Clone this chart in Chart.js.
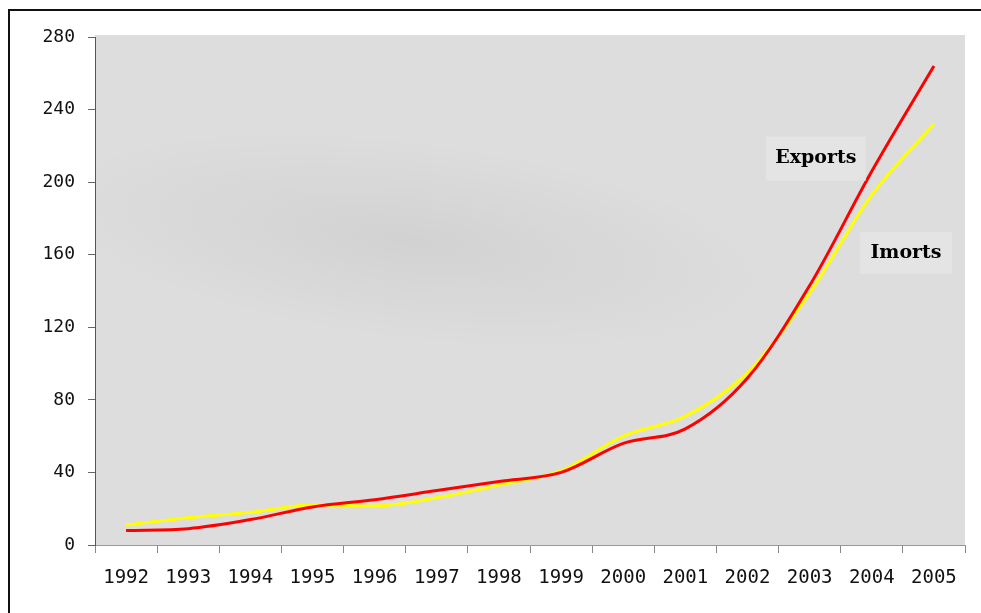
<!DOCTYPE html>
<html>
<head>
  <meta charset="UTF-8">
  <title>Exports and Imports 1992-2005</title>
  <script src="https://cdn.jsdelivr.net/npm/chart.js"></script>
  <style>
    html, body {
      margin: 0;
      padding: 0;
      background: #fff;
      overflow: hidden;
    }
    .frame {
      position: absolute;
      left: 8px;
      top: 9px;
      width: 990px;
      height: 620px;
      border: 2px solid #111;
      box-sizing: border-box;
    }
    .chart-box {
      position: absolute;
      left: 0;
      top: 0;
      width: 981px;
      height: 613px;
    }
  </style>
</head>
<body>
  <div class="frame"></div>
  <div class="chart-box">
    <canvas id="tradeChart" width="981" height="613"></canvas>
  </div>

  <script>
    const years = ['1992', '1993', '1994', '1995', '1996', '1997', '1998',
                   '1999', '2000', '2001', '2002', '2003', '2004', '2005'];
    const exportsValues = [8, 9, 14, 21, 25, 30, 35, 40, 56, 64, 92, 143, 206, 264];
    const importsValues = [11, 15, 18, 22, 21.5, 26, 33, 41, 60, 71, 95, 139, 193, 232];
    const yTicks = [0, 40, 80, 120, 160, 200, 240, 280];

    // text notes placed by category index / value
    const notes = [
      { text: 'Exports', x: 11.1, y: 213, boxW: 100, boxH: 44 },
      { text: 'Imorts', x: 12.55, y: 161, boxW: 92, boxH: 42 }
    ];

    const plotBackground = {
      id: 'plotBackground',
      beforeDraw(chart) {
        const { ctx, chartArea: a } = chart;
        const w = a.right - a.left;
        const h = a.bottom - a.top;
        ctx.save();
        ctx.fillStyle = '#dddddd';
        ctx.fillRect(a.left, a.top - 2, w, h + 2);
        // soft darker swath like the scanned backdrop
        ctx.beginPath();
        ctx.rect(a.left, a.top - 2, w, h + 2);
        ctx.clip();
        const g = ctx.createRadialGradient(0, 0, 0, 0, 0, 1);
        g.addColorStop(0, 'rgba(0,0,0,0.05)');
        g.addColorStop(1, 'rgba(0,0,0,0)');
        ctx.translate(a.left + w * 0.36, a.top + h * 0.4);
        ctx.rotate(0.12);
        ctx.scale(w * 0.42, h * 0.2);
        ctx.fillStyle = g;
        ctx.beginPath();
        ctx.arc(0, 0, 1, 0, Math.PI * 2);
        ctx.fill();
        ctx.restore();
      }
    };

    const noteLabels = {
      id: 'noteLabels',
      afterDatasetsDraw(chart) {
        const { ctx, scales } = chart;
        ctx.save();
        ctx.font = 'bold 19px "DejaVu Serif"';
        ctx.textAlign = 'center';
        ctx.textBaseline = 'middle';
        notes.forEach(n => {
          const px = scales.x.getPixelForValue(n.x);
          const py = scales.y.getPixelForValue(n.y);
          ctx.fillStyle = '#e4e4e4';
          ctx.fillRect(px - n.boxW / 2, py - n.boxH / 2, n.boxW, n.boxH);
          ctx.fillStyle = '#000';
          ctx.fillText(n.text, px, py);
        });
        ctx.restore();
      }
    };

    new Chart(document.getElementById('tradeChart').getContext('2d'), {
      type: 'line',
      data: {
        labels: years,
        datasets: [
          {
            label: 'Exports',
            data: exportsValues,
            borderColor: '#ff0000',
            borderWidth: 3,
            pointRadius: 0,
            cubicInterpolationMode: 'monotone',
            fill: false
          },
          {
            label: 'Imports',
            data: importsValues,
            borderColor: '#ffff00',
            borderWidth: 3,
            pointRadius: 0,
            cubicInterpolationMode: 'monotone',
            fill: false
          }
        ]
      },
      options: {
        responsive: false,
        animation: false,
        layout: {
          padding: { left: 0, top: 37, right: 16, bottom: 0 }
        },
        plugins: {
          legend: { display: false },
          tooltip: { enabled: false }
        },
        scales: {
          x: {
            offset: true,
            grid: {
              offset: true,
              drawOnChartArea: false,
              tickLength: 8,
              color: '#888'
            },
            border: { color: '#999', width: 1 },
            ticks: {
              color: '#111',
              padding: 14,
              maxRotation: 0,
              autoSkip: false,
              font: { family: '"DejaVu Sans Mono"', size: 19 }
            },
            afterFit(scale) { scale.height = 68; }
          },
          y: {
            min: 0,
            max: 280,
            afterBuildTicks(scale) {
              scale.ticks = yTicks.map(v => ({ value: v }));
            },
            grid: {
              drawOnChartArea: false,
              tickLength: 7,
              color: '#666'
            },
            border: { color: '#555', width: 1 },
            ticks: {
              color: '#111',
              padding: 13,
              font: { family: '"DejaVu Sans Mono"', size: 18 }
            },
            afterFit(scale) { scale.width = 95; }
          }
        }
      },
      plugins: [plotBackground, noteLabels]
    });
  </script>
</body>
</html>
